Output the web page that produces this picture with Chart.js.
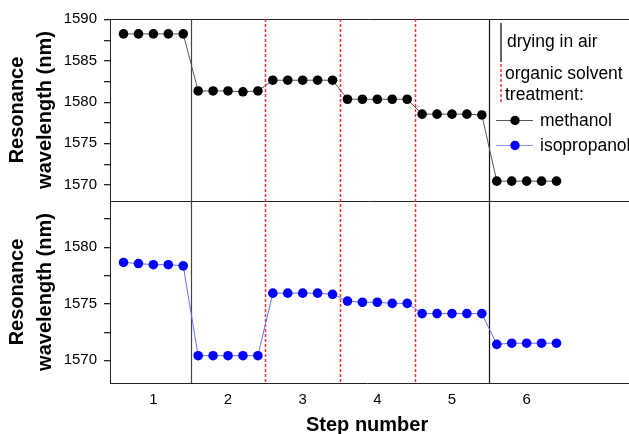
<!DOCTYPE html>
<html>
<head>
<meta charset="utf-8">
<script src="https://cdn.jsdelivr.net/npm/chart.js@4/dist/chart.umd.min.js"></script>
<style>
  html, body { margin: 0; padding: 0; background: #fff; }
  #wrap { width: 629px; height: 434px; }
</style>
</head>
<body>
<div id="wrap"><canvas id="myChart" width="629" height="434"></canvas></div>
<script>
// measurement positions along the step axis (5 readings per step)
const positions = [
  0.6, 0.8, 1.0, 1.2, 1.4,
  1.6, 1.8, 2.0, 2.2, 2.4,
  2.6, 2.8, 3.0, 3.2, 3.4,
  3.6, 3.8, 4.0, 4.2, 4.4,
  4.6, 4.8, 5.0, 5.2, 5.4,
  5.6, 5.8, 6.0, 6.2, 6.4
];

// resonance wavelength (nm)
const methanol = [
  1588.2, 1588.2, 1588.2, 1588.2, 1588.2,
  1581.3, 1581.3, 1581.3, 1581.2, 1581.3,
  1582.6, 1582.6, 1582.6, 1582.6, 1582.6,
  1580.3, 1580.3, 1580.3, 1580.3, 1580.3,
  1578.5, 1578.5, 1578.5, 1578.5, 1578.4,
  1570.4, 1570.4, 1570.4, 1570.4, 1570.4
];
const isopropanol = [
  1578.6, 1578.5, 1578.4, 1578.4, 1578.3,
  1570.4, 1570.4, 1570.4, 1570.4, 1570.4,
  1575.9, 1575.9, 1575.9, 1575.9, 1575.8,
  1575.2, 1575.1, 1575.1, 1575.0, 1575.0,
  1574.1, 1574.1, 1574.1, 1574.1, 1574.1,
  1571.4, 1571.5, 1571.5, 1571.5, 1571.5
];

// axis ticks (minor ticks carry no label)
const stepTicks = [1, 2, 3, 4, 5, 6];
const stepLabels = ['1', '2', '3', '4', '5', '6'];
const topTicks = [1570, 1572.5, 1575, 1577.5, 1580, 1582.5, 1585, 1587.5, 1590];
const topLabels = ['1570', '', '1575', '', '1580', '', '1585', '', '1590'];
const botTicks = [1570, 1572.5, 1575, 1577.5, 1580, 1582.5];
const botLabels = ['1570', '', '1575', '', '1580', ''];

const dryingLines = [1.5, 5.5];        // solid black: drying in air
const solventLines = [2.5, 3.5, 4.5];  // red dotted: organic solvent treatment

const FONT = "'Liberation Sans', Arial, sans-serif";

function toPoints(xs, ys) {
  return xs.map(function (x, i) { return { x: x, y: ys[i] }; });
}

function fixedTicks(values, labels) {
  return {
    afterBuildTicks: function (scale) {
      scale.ticks = values.map(function (v) { return { value: v }; });
    },
    callback: function (value) {
      const i = values.indexOf(value);
      return i >= 0 ? labels[i] : '';
    }
  };
}
const xFixed = fixedTicks(stepTicks, stepLabels);
const topFixed = fixedTicks(topTicks, topLabels);
const botFixed = fixedTicks(botTicks, botLabels);

// Below we draw the step separators, panel frame, y tick marks and the custom legend
const decorPlugin = {
  id: 'decor',
  beforeDatasetsDraw(chart) {
    const ctx = chart.ctx;
    const area = chart.chartArea;
    const x = chart.scales.x;
    const yTop = chart.scales.yTop;
    ctx.save();
    ctx.lineWidth = 1;
    ctx.strokeStyle = '#222';
    ctx.beginPath();
    ctx.moveTo(area.left, area.top + 0.5);
    ctx.lineTo(chart.width, area.top + 0.5);
    ctx.moveTo(area.left, Math.round(yTop.bottom) + 0.5);
    ctx.lineTo(chart.width, Math.round(yTop.bottom) + 0.5);
    ctx.moveTo(area.right - 1, Math.round(area.bottom) + 0.5);
    ctx.lineTo(chart.width, Math.round(area.bottom) + 0.5);
    ctx.stroke();

    dryingLines.forEach(function (v, i) {
      const px = Math.round(x.getPixelForValue(v)) + 0.5;
      ctx.strokeStyle = i === 0 ? '#444' : '#111';
      ctx.lineWidth = 1.2;
      ctx.setLineDash([]);
      ctx.beginPath();
      ctx.moveTo(px, area.top);
      ctx.lineTo(px, area.bottom);
      ctx.stroke();
    });
    solventLines.forEach(function (v) {
      const px = Math.round(x.getPixelForValue(v)) + 0.5;
      ctx.strokeStyle = '#ff3030';
      ctx.lineWidth = 1.5;
      ctx.setLineDash([3, 2]);
      ctx.beginPath();
      ctx.moveTo(px, area.top);
      ctx.lineTo(px, area.bottom);
      ctx.stroke();
    });
    ctx.restore();
  },
  afterDraw(chart) {
    const ctx = chart.ctx;
    const area = chart.chartArea;
    ctx.save();

    // y tick marks (major and minor) for both panels
    ctx.fillStyle = '#222';
    ['yTop', 'yBot'].forEach(function (id) {
      const s = chart.scales[id];
      s.ticks.forEach(function (t) {
        const py = Math.round(s.getPixelForValue(t.value));
        ctx.fillRect(area.left - 6, py, 6, 1.3);
      });
    });

    ctx.font = '17.5px ' + FONT;
    ctx.fillStyle = '#000';
    ctx.textBaseline = 'middle';

    // drying in air
    ctx.strokeStyle = '#333';
    ctx.lineWidth = 1.5;
    ctx.beginPath();
    ctx.moveTo(501, 23);
    ctx.lineTo(501, 62);
    ctx.stroke();
    ctx.fillText('drying in air', 507, 42);

    // organic solvent treatment
    ctx.strokeStyle = '#ff3030';
    ctx.setLineDash([3, 2]);
    ctx.beginPath();
    ctx.moveTo(501, 64);
    ctx.lineTo(501, 102);
    ctx.stroke();
    ctx.setLineDash([]);
    ctx.fillText('organic solvent', 505, 74);
    ctx.fillText('treatment:', 505, 95);

    // series samples
    const items = [
      { label: 'methanol', line: '#555', dot: '#000', y: 120 },
      { label: 'isopropanol', line: '#8f8fff', dot: '#0000ff', y: 145 }
    ];
    items.forEach(function (it) {
      ctx.strokeStyle = it.line;
      ctx.lineWidth = 1;
      ctx.beginPath();
      ctx.moveTo(496, it.y + 0.5);
      ctx.lineTo(533, it.y + 0.5);
      ctx.stroke();
      ctx.fillStyle = it.dot;
      ctx.beginPath();
      ctx.arc(515, it.y + 0.5, 4.7, 0, Math.PI * 2);
      ctx.fill();
      ctx.fillStyle = '#000';
      ctx.fillText(it.label, 540, it.y + 1);
    });
    ctx.restore();
  }
};

const yTitle = {
  display: true,
  text: ['Resonance', 'wavelength (nm)'],
  color: '#000',
  font: { family: FONT, size: 20, weight: 'bold', lineHeight: 1.4 },
  padding: { top: 3, bottom: 0 }
};

const context = document.getElementById('myChart').getContext('2d');
const myChart = new Chart(context, {
  type: 'line',
  data: {
    datasets: [
      {
        label: 'methanol',
        data: toPoints(positions, methanol),
        yAxisID: 'yTop',
        borderColor: '#555',
        borderWidth: 1,
        backgroundColor: '#000',
        pointBackgroundColor: '#000',
        pointBorderWidth: 0,
        pointRadius: 4.8,
        fill: false,
        lineTension: 0
      },
      {
        label: 'isopropanol',
        data: toPoints(positions, isopropanol),
        yAxisID: 'yBot',
        borderColor: '#6b6bff',
        borderWidth: 1,
        backgroundColor: '#0000ff',
        pointBackgroundColor: '#0000ff',
        pointBorderWidth: 0,
        pointRadius: 4.8,
        fill: false,
        lineTension: 0
      }
    ]
  },
  options: {
    responsive: false,
    animation: false,
    layout: { padding: { top: 19, right: 0, left: 0, bottom: 0 } },
    plugins: {
      legend: { display: false },
      tooltip: { enabled: false }
    },
    scales: {
      x: {
        type: 'linear',
        min: 0.419,
        max: 7.307,
        grid: { display: false, drawTicks: false },
        border: { display: true, color: '#222', width: 1 },
        afterBuildTicks: xFixed.afterBuildTicks,
        ticks: {
          autoSkip: false,
          padding: 8,
          color: '#000',
          font: { family: FONT, size: 15 },
          callback: xFixed.callback
        },
        title: {
          display: true,
          text: 'Step number',
          color: '#000',
          font: { family: FONT, size: 20, weight: 'bold', lineHeight: 0.85 },
          padding: { top: 0, bottom: 0 }
        },
        afterFit: function (scale) { scale.height = 51; }
      },
      yTop: {
        type: 'linear',
        position: 'left',
        stack: 'panels',
        stackWeight: 1,
        weight: 2,
        min: 1568,
        max: 1590,
        grid: { display: false, drawTicks: true, tickLength: 5 },
        border: { display: true, color: '#222', width: 1 },
        afterBuildTicks: topFixed.afterBuildTicks,
        ticks: {
          autoSkip: false,
          padding: 8,
          color: '#000',
          font: { family: FONT, size: 15 },
          callback: topFixed.callback
        },
        title: yTitle,
        afterFit: function (scale) { scale.width = 110; }
      },
      yBot: {
        type: 'linear',
        position: 'left',
        stack: 'panels',
        stackWeight: 1,
        weight: 1,
        min: 1568,
        max: 1584,
        grid: { display: false, drawTicks: true, tickLength: 5 },
        border: { display: true, color: '#222', width: 1 },
        afterBuildTicks: botFixed.afterBuildTicks,
        ticks: {
          autoSkip: false,
          padding: 8,
          color: '#000',
          font: { family: FONT, size: 15 },
          callback: botFixed.callback
        },
        title: yTitle,
        afterFit: function (scale) { scale.width = 110; }
      }
    }
  },
  plugins: [decorPlugin]
});
</script>
</body>
</html>
